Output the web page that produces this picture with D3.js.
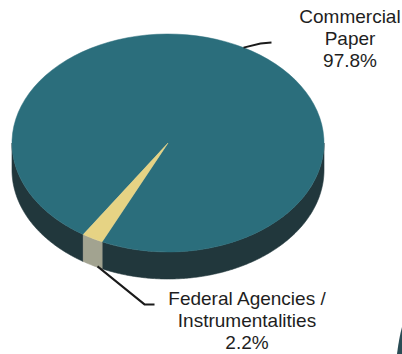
<!DOCTYPE html>
<html>
<head>
<meta charset="utf-8">
<script src="https://cdn.jsdelivr.net/npm/d3@7/dist/d3.min.js"></script>
<style>
  html, body { margin: 0; padding: 0; background: #ffffff; }
  svg { display: block; }
</style>
</head>
<body>
<script>
// ---- data ----
const categories = ["Commercial Paper", "Federal Agencies / Instrumentalities"];
const values = [97.8, 2.2];
const labelLines = [["Commercial", "Paper", "97.8%"], ["Federal Agencies /", "Instrumentalities", "2.2%"]];
const topColors = ["#2b6e7c", "#e6d384"];
const sideColors = ["#21373c", "#a2a390"];

// ---- layout ----
const W = 402, H = 354;
const cx = 168, cy = 143, rx = 156, ry = 109, depth = 27;
const startDeg = -147.1;

const svg = d3.select("body").append("svg").attr("width", W).attr("height", H);

const pie = d3.pie().sort(null).value(d => d)
  .startAngle(startDeg * Math.PI / 180)
  .endAngle(startDeg * Math.PI / 180 + 2 * Math.PI);
const arcs = pie(values);

const px = a => cx + rx * Math.sin(a);
const py = a => cy - ry * Math.cos(a);

// ---- side walls (visible front half: angles 90..270 deg) ----
const wallG = svg.append("g");
const lineGen = d3.line().x(d => d[0]).y(d => d[1]);
function wallPts(a0, a1) {
  const n = Math.max(2, Math.ceil((a1 - a0) / 0.01));
  const top = d3.range(n + 1).map(i => a0 + (a1 - a0) * i / n);
  const pts = top.map(a => [px(a), py(a)]);
  const bot = top.slice().reverse().map(a => [px(a), py(a) + depth]);
  return lineGen(pts.concat(bot)) + "Z";
}
const lo = Math.PI / 2, hi = 3 * Math.PI / 2;
arcs.forEach((d, i) => {
  [-2 * Math.PI, 0, 2 * Math.PI].forEach(off => {
    const a0 = Math.max(d.startAngle + off, lo);
    const a1 = Math.min(d.endAngle + off, hi);
    if (a1 > a0) {
      wallG.append("path").attr("d", wallPts(a0, a1))
        .attr("fill", sideColors[i]).attr("stroke", sideColors[i]).attr("stroke-width", 0.6);
    }
  });
});

// ---- top face ----
const arcGen = d3.arc().innerRadius(0).outerRadius(rx);
const topG = svg.append("g").attr("transform", `translate(${cx},${cy}) scale(1,${ry / rx})`);
topG.selectAll("path").data(arcs).join("path")
  .attr("d", arcGen)
  .attr("fill", (d, i) => topColors[i])
  .attr("stroke", (d, i) => topColors[i])
  .attr("stroke-width", 0.6);

// ---- leader lines & labels ----
const mid = d => (d.startAngle + d.endAngle) / 2;
const c0 = arcs[0], c1 = arcs[1];
const a0 = mid(c0), a1 = mid(c1);
const leaders = [
  [[px(a0), py(a0)], [px(a0) + 17, py(a0) - 4], [px(a0) + 28, py(a0) - 5]],
  [[px(a1) + 5, py(a1) + depth + 1], [px(a1) + 52, py(a1) + depth + 39], [px(a1) + 62, py(a1) + depth + 39]]
];
svg.selectAll("path.leader").data(leaders).join("path")
  .attr("class", "leader")
  .attr("d", d => d3.line()(d))
  .attr("fill", "none").attr("stroke", "#1a1a1a").attr("stroke-width", 2);

const labelPos = [{ x: 350, y: 23 }, { x: 247, y: 305 }];
const lineH = 22;
labelLines.forEach((lines, i) => {
  const t = svg.append("text")
    .attr("text-anchor", "middle")
    .attr("font-family", "Liberation Sans, Arial, sans-serif")
    .attr("font-size", 19)
    .attr("fill", "#1e1e1e");
  lines.forEach((s, j) => {
    t.append("tspan").attr("x", labelPos[i].x).attr("y", labelPos[i].y + j * lineH).text(s);
  });
});

// ---- cropped fragment at bottom-right edge ----
svg.append("path")
  .attr("d", "M402,327 Q399,338 397,354 L402,354 Z")
  .attr("fill", "#2a4c55");
</script>
</body>
</html>
